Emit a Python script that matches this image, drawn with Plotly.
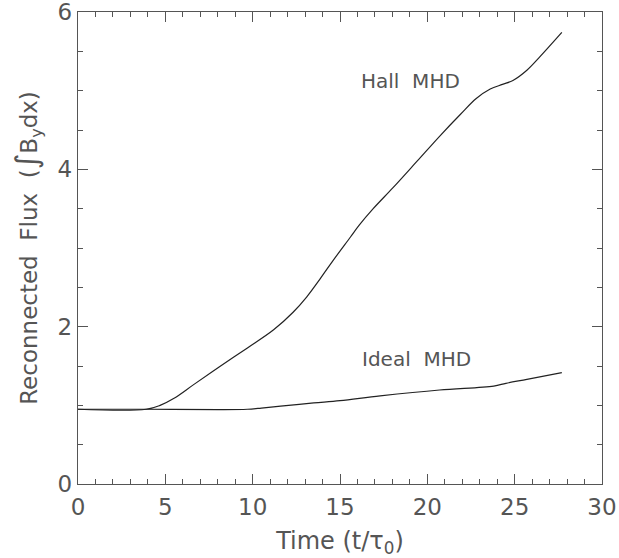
import plotly.graph_objects as go

hall_t = [0, 3.9, 4.7, 5.5, 6.6, 8.1, 9.7, 11.2, 12.3, 13.1, 13.9, 14.6, 15.6, 16.1, 16.9,
          18.05, 19.4, 20.7, 21.9, 22.8, 23.6, 24.3, 24.9, 25.7, 26.4, 27.7]
hall_v = [0.95, 0.95, 1.0, 1.09, 1.26, 1.49, 1.73, 1.96, 2.18, 2.38, 2.62, 2.84, 3.14, 3.29, 3.50,
          3.77, 4.10, 4.42, 4.70, 4.90, 5.02, 5.08, 5.13, 5.26, 5.42, 5.74]

ideal_t = [0, 4, 8, 9.7, 10.5, 11.6, 13.5, 15, 17.3, 20.7, 23.8, 24.5, 25.7, 27.7]
ideal_v = [0.95, 0.95, 0.945, 0.95, 0.965, 0.99, 1.03, 1.06, 1.12, 1.195, 1.245, 1.28, 1.33, 1.415]

labels = ["Hall&nbsp;&nbsp;MHD", "Ideal&nbsp;&nbsp;MHD"]
label_t = [19.05, 19.4]
label_v = [5.12, 1.59]

x_ticks = [0, 5, 10, 15, 20, 25, 30]
y_ticks = [0, 2, 4, 6]

FONT = "DejaVu Sans"
TXT = "#555555"
AX = "#555555"

fig = go.Figure()
for t, v in ((hall_t, hall_v), (ideal_t, ideal_v)):
    fig.add_trace(go.Scatter(x=t, y=v, mode="lines",
                             line=dict(color="#222222", width=1.2, shape="spline", smoothing=1.0),
                             showlegend=False))

for s, t, v in zip(labels, label_t, label_v):
    fig.add_annotation(x=t, y=v, text=s, showarrow=False, font=dict(family=FONT, size=20, color=TXT))

axis_common = dict(
    showgrid=False, zeroline=False, showline=True, linecolor=AX, linewidth=1.3,
    mirror="allticks", ticks="inside", ticklen=10, tickwidth=1, tickcolor=AX,
    tickfont=dict(family=FONT, size=23, color=TXT), automargin=False,
    ticklabeloverflow="allow",
)

fig.update_xaxes(range=[0, 30], tickvals=x_ticks, ticktext=[str(v) for v in x_ticks],
                 minor=dict(dtick=1, ticks="inside", ticklen=5, tickcolor=AX, showgrid=False),
                 ticklabelstandoff=2,
                 title=dict(text="Time (t/τ<sub>0</sub>)", font=dict(family=FONT, size=24, color=TXT), standoff=14),
                 **axis_common)
fig.update_yaxes(range=[0, 6], tickvals=y_ticks, ticktext=[str(v) for v in y_ticks],
                 minor=dict(dtick=0.5, ticks="inside", ticklen=5, tickcolor=AX, showgrid=False),
                 ticklabelstandoff=0,
                 title=dict(text="Reconnected&nbsp;&nbsp;Flux&nbsp;&nbsp;(<span style='font-size:30px'>∫</span>B<sub>y</sub>dx)",
                            font=dict(family=FONT, size=23, color=TXT), standoff=13),
                 **axis_common)

fig.update_layout(width=619, height=558, margin=dict(l=78, r=17, t=12, b=74),
                  plot_bgcolor="white", paper_bgcolor="white")

# remove the browser's default 8px body margin so the figure sits at the page origin
fig.write_html("out.html", config={"displayModeBar": False},
               post_script="document.body.style.margin='0';")
